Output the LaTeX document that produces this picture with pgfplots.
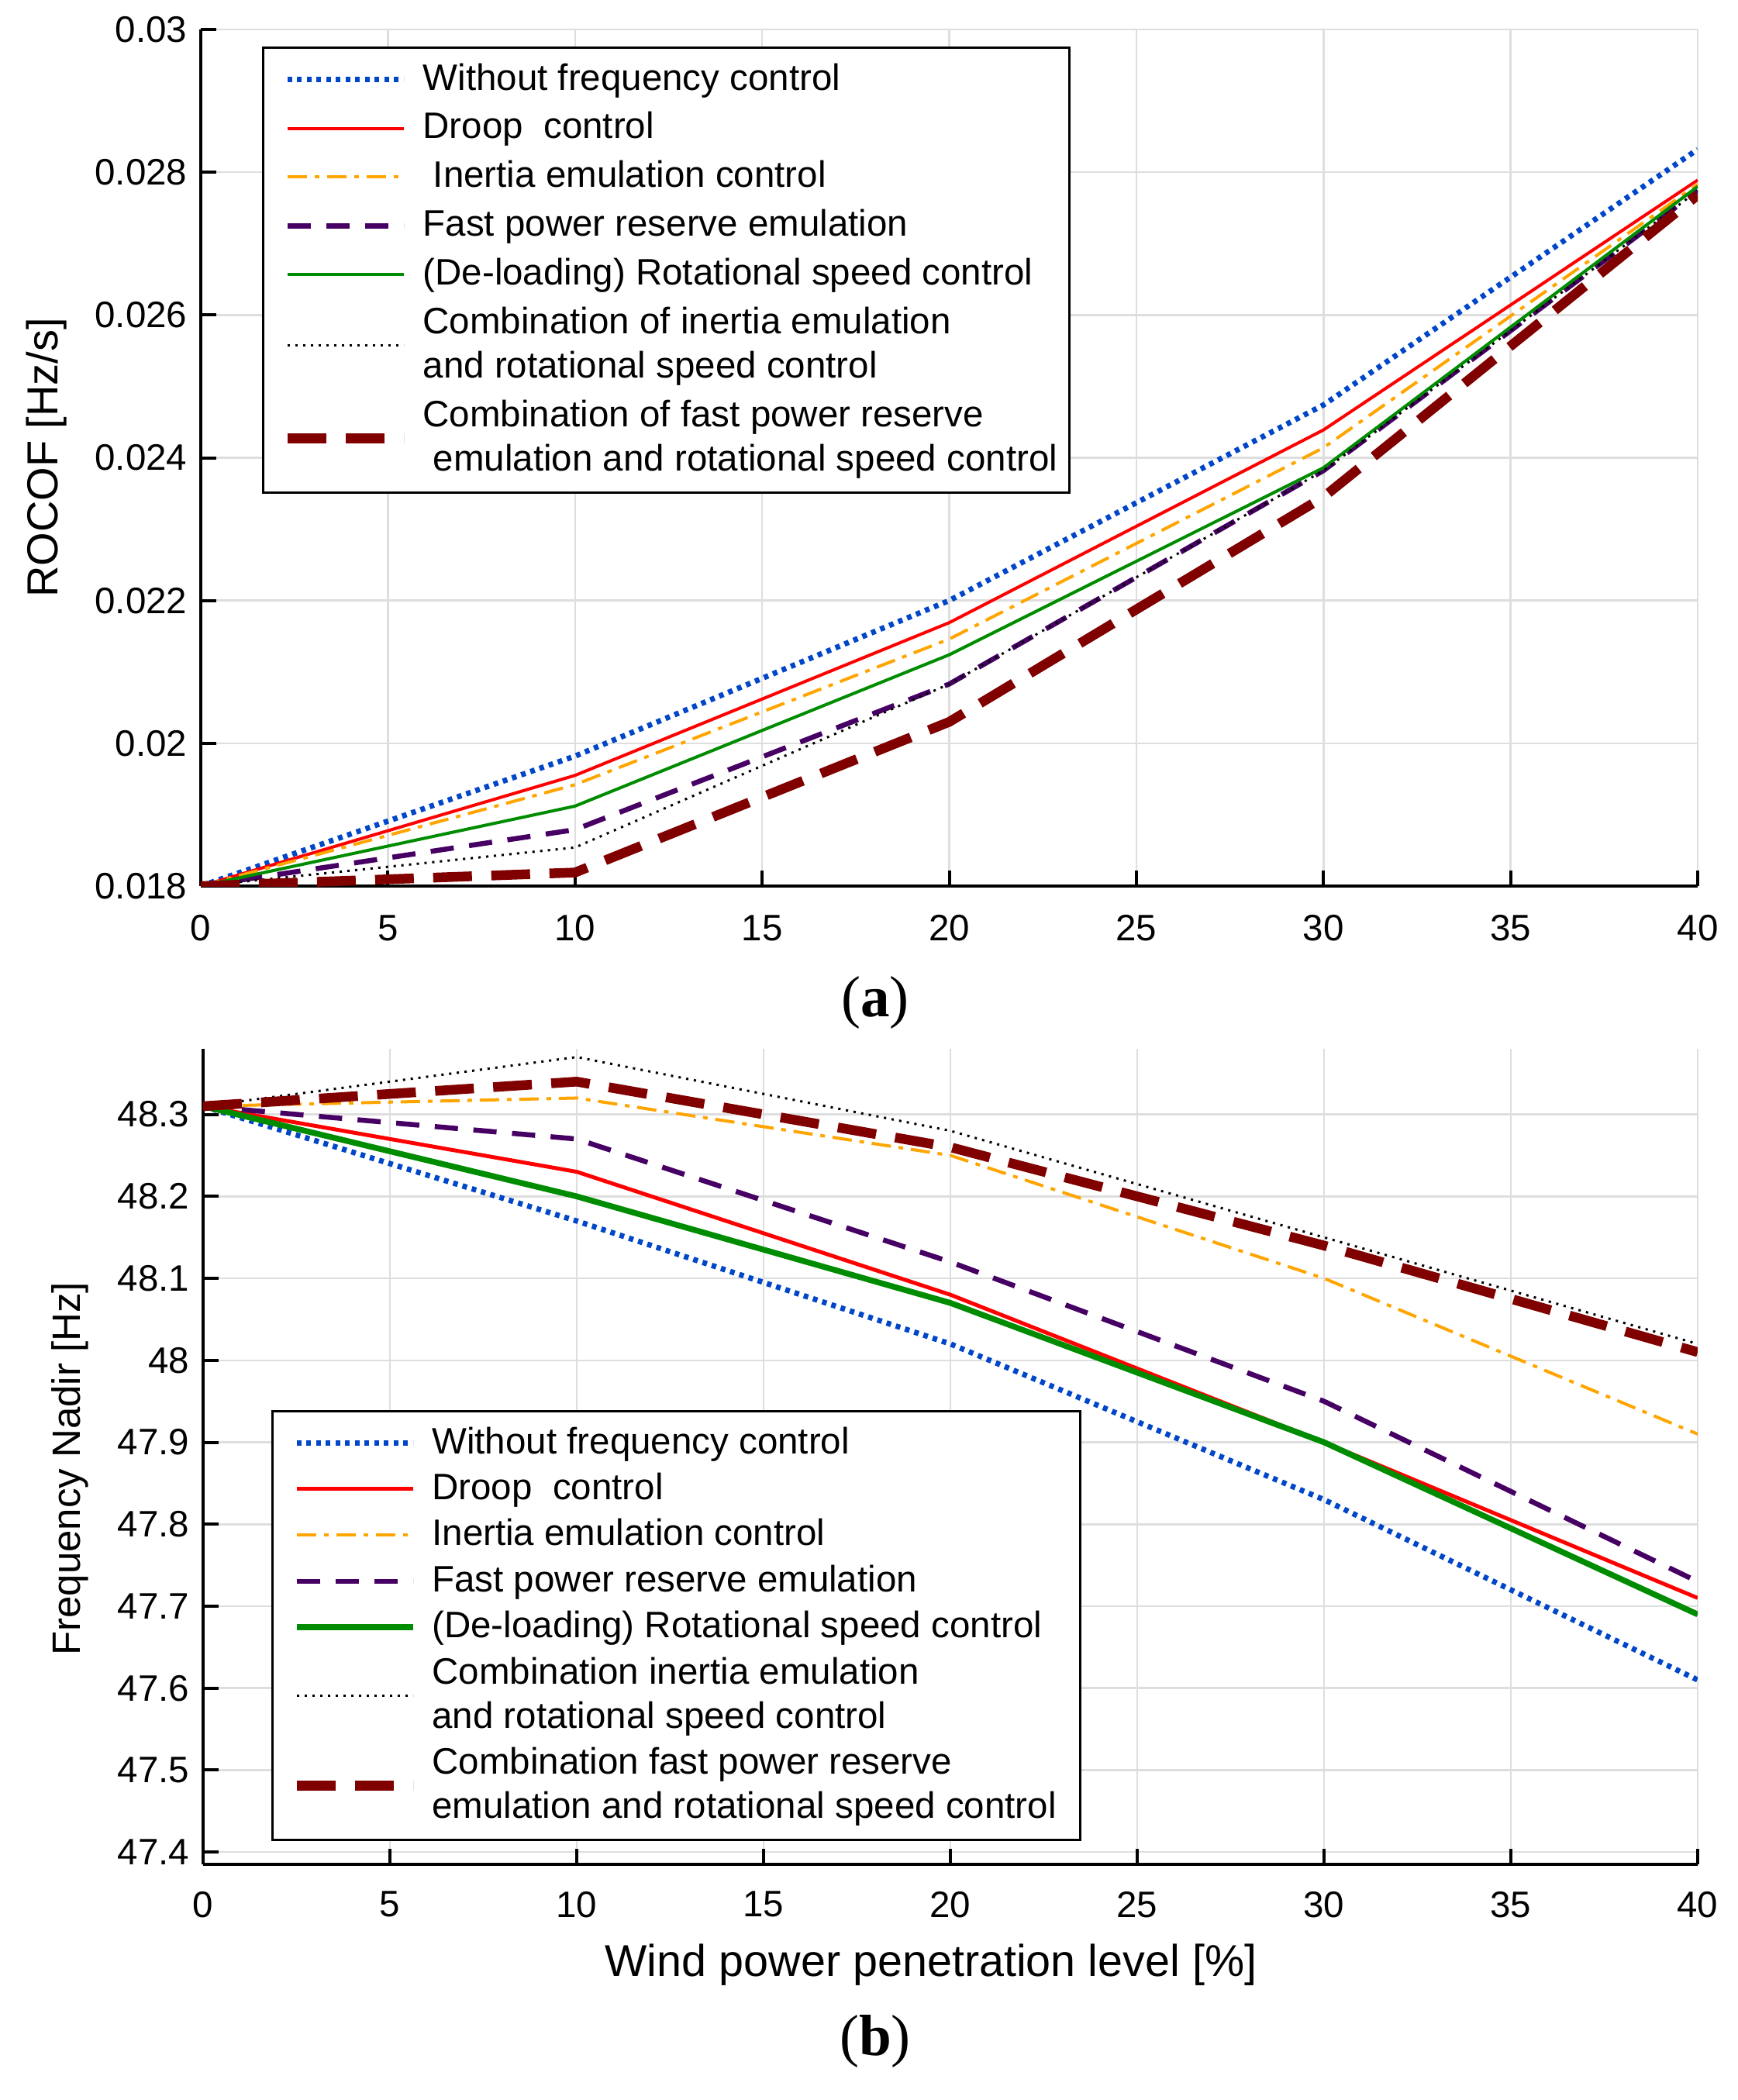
\documentclass[border=0pt]{standalone}
\usepackage{fontspec}
\setmainfont{Liberation Sans}
\newfontfamily\serifcap{Liberation Serif}
\usepackage{pgfplots}
\pgfplotsset{compat=1.18}

\definecolor{wblue}{RGB}{0,70,200}
\definecolor{dred}{RGB}{255,0,0}
\definecolor{iorange}{RGB}{255,165,0}
\definecolor{fpurple}{RGB}{70,0,100}
\definecolor{rgreen}{RGB}{0,140,0}
\definecolor{cdark}{RGB}{128,0,0}
\definecolor{gridgray}{RGB}{222,222,222}

\pgfplotsset{
  panel/.style={
    scale only axis,
    xmin=0, xmax=40, xtick={0,5,...,40},
    scaled y ticks=false,
    axis x line=bottom, axis y line=left,
    axis line style={-, black, line width=0.9pt},
    tick align=inside, major tick length=4pt,
    tick style={black, line width=0.8pt},
    grid=major, major grid style={gridgray, line width=0.5pt},
    ticklabel style={font=\fontsize{9.5}{11}\selectfont},
    /pgf/number format/assume math mode=true,
    label style={font=\fontsize{11.5}{13}\selectfont},
    legend cell align=left,
    legend style={draw=black, line width=0.6pt, fill=white,
      font=\fontsize{9.5}{11.4}\selectfont,
      cells={anchor=west, align=left},
      inner xsep=1pt, inner ysep=2pt,
      /tikz/every odd column/.append style={column sep=1.7pt}},
    legend image code/.code={\path (0pt,0pt); \draw[##1] (4pt,0pt) -- (34pt,0pt);},
  },
  sWo/.style={wblue, line width=1.4pt, dash pattern=on 1.2pt off 1.3pt},
  sDr/.style={dred, line width=0.8pt},
  sIn/.style={iorange, line width=0.8pt, dash pattern=on 5pt off 2pt on 1.2pt off 2pt},
  sFp/.style={fpurple, line width=1.3pt, dash pattern=on 6pt off 4pt},
  sRs/.style={rgreen, line width=0.8pt},
  sCi/.style={black, line width=0.6pt, dash pattern=on 0.6pt off 1.4pt},
  sCf/.style={cdark, line width=2.5pt, dash pattern=on 10pt off 5pt},
}

\begin{document}
\begin{tikzpicture}

% (a) ROCOF
\begin{axis}[panel,
  at={(51.8pt,-7.6pt)}, anchor=north west,
  width=386.2pt, height=221pt,
  ymin=0.018, ymax=0.03,
  ytick={0.018,0.02,0.022,0.024,0.026,0.028,0.03},
  yticklabels={0.018,0.02,0.022,0.024,0.026,0.028,0.03},
  xticklabel style={yshift=-4pt},
  ylabel={ROCOF [Hz/s]},
  ylabel style={at={(axis description cs:-0.103,0.5)}, anchor=center,
    font=\fontsize{11.2}{13}\selectfont},
  legend style={at={(axis description cs:0.041,0.98)}, anchor=north west,
    row sep=0.2pt},
]
\addplot[sWo] coordinates {(0,0.018) (10,0.01982) (20,0.0220) (30,0.02474) (40,0.02832)};
\addlegendentry{Without frequency control}
\addplot[sDr] coordinates {(0,0.018) (10,0.01955) (20,0.02169) (30,0.02439) (40,0.02789)};
\addlegendentry{Droop\ \ control}
\addplot[sIn] coordinates {(0,0.018) (10,0.01942) (20,0.02146) (30,0.02414) (40,0.02783)};
\addlegendentry{\ Inertia emulation control}
\addplot[sFp] coordinates {(0,0.018) (10,0.01879) (20,0.02083) (30,0.02382) (40,0.02774)};
\addlegendentry{Fast power reserve emulation}
\addplot[sRs] coordinates {(0,0.018) (10,0.01912) (20,0.02124) (30,0.02386) (40,0.0278)};
\addlegendentry{(De-loading) Rotational speed control}
\addplot[sCi] coordinates {(0,0.018) (10,0.01854) (20,0.02083) (30,0.02382) (40,0.02774)};
\addlegendentry{Combination of inertia emulation\\and rotational speed control}
\addplot[sCf] coordinates {(0,0.018) (10,0.01819) (20,0.0203) (30,0.02345) (40,0.02768)};
\addlegendentry{Combination of fast power reserve\\\ emulation and rotational speed control}
\end{axis}

% (b) Frequency nadir
\begin{axis}[panel,
  at={(52.4pt,-481pt)}, anchor=south west,
  width=385.6pt, height=210.4pt,
  ymin=47.385, ymax=48.38,
  ytick={47.4,47.5,47.6,47.7,47.8,47.9,48,48.1,48.2,48.3},
  yticklabels={47.4,47.5,47.6,47.7,47.8,47.9,48,48.1,48.2,48.3},
  xticklabel style={yshift=-3.5pt},
  xlabel={Wind power penetration level [\%]},
  xlabel style={xshift=-5pt},
  ylabel={Frequency Nadir [Hz]},
  ylabel style={at={(axis description cs:-0.089,0.485)}, anchor=center,
    font=\fontsize{10.2}{12}\selectfont},
  legend style={at={(axis description cs:0.0456,0.029)}, anchor=south west,
    row sep=-0.5pt},
]
\addplot[sWo] coordinates {(0,48.31) (10,48.17) (20,48.02) (30,47.83) (40,47.61)};
\addlegendentry{Without frequency control}
\addplot[sDr, line width=1pt] coordinates {(0,48.31) (10,48.23) (20,48.08) (30,47.90) (40,47.71)};
\addlegendentry{Droop\ \ control}
\addplot[sIn] coordinates {(0,48.31) (10,48.32) (20,48.25) (30,48.10) (40,47.91)};
\addlegendentry{Inertia emulation control}
\addplot[sFp] coordinates {(0,48.31) (10,48.27) (20,48.12) (30,47.95) (40,47.73)};
\addlegendentry{Fast power reserve emulation}
\addplot[sRs, line width=1.5pt] coordinates {(0,48.31) (10,48.20) (20,48.07) (30,47.90) (40,47.69)};
\addlegendentry{(De-loading) Rotational speed control}
\addplot[sCi] coordinates {(0,48.31) (10,48.37) (20,48.28) (30,48.15) (40,48.02)};
\addlegendentry{Combination inertia emulation\\and rotational speed control}
\addplot[sCf] coordinates {(0,48.31) (10,48.34) (20,48.26) (30,48.14) (40,48.01)};
\addlegendentry{Combination fast power reserve\\emulation and rotational speed control\rule{3.1pt}{0pt}}
\end{axis}

\node[font=\serifcap\fontsize{15}{15}\selectfont] at (225.8pt,-258.6pt) {(\textbf{a})};
\node[font=\serifcap\fontsize{15}{15}\selectfont] at (225.8pt,-526.6pt) {(\textbf{b})};

\pgfresetboundingbox
\path[use as bounding box] (0,0) rectangle (448.2pt,-541.8pt);
\end{tikzpicture}
\end{document}
